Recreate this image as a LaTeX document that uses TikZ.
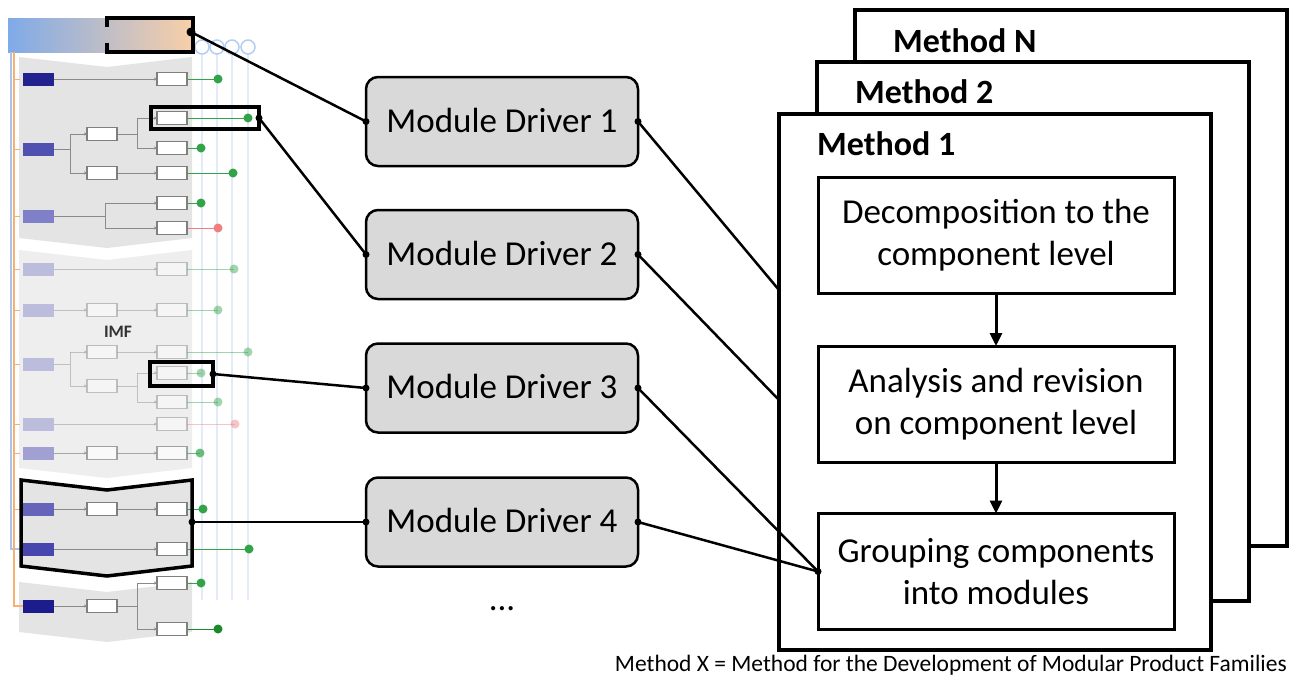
\documentclass[tikz,border=0pt]{standalone}
\usepackage{fontspec}
\setmainfont{Carlito}
\usetikzlibrary{arrows.meta,calc}
\definecolor{mdgray}{HTML}{D9D9D9}
\definecolor{tgreen}{HTML}{33A34A}
\definecolor{tdgreen}{HTML}{1A8A2A}
\definecolor{tred}{HTML}{F08080}
\definecolor{tboxc}{HTML}{7F7F7F}
\definecolor{tlinec}{HTML}{8A8A8A}
\definecolor{barblue}{HTML}{7FAAE8}
\definecolor{barmid}{HTML}{CBC3D0}
\definecolor{barpeach}{HTML}{F9CFA8}
\definecolor{faintblue}{HTML}{E2EBF7}
\definecolor{circblue}{HTML}{B5CDEE}
\definecolor{lblue}{HTML}{A8C4EC}
\definecolor{lorange}{HTML}{F8B070}
\definecolor{panelA}{HTML}{E4E4E4}
\definecolor{panelB}{HTML}{EEEEEE}
\definecolor{dA}{HTML}{23238F}
\definecolor{dB}{HTML}{5050B0}
\definecolor{dC}{HTML}{8080C8}
\definecolor{dD}{HTML}{6464BA}
\definecolor{dE}{HTML}{4646AE}
\definecolor{dF}{HTML}{1C1C8C}
\newcommand\tdrv[2]{\fill[#2] (23,#1-6.5) rectangle (54,#1+6.5);}
\newcommand\tbxa[1]{\draw[tbox] (87,#1-6.5) rectangle (117,#1+6.5);}
\newcommand\tbxb[1]{\draw[tbox] (157,#1-6.5) rectangle (187,#1+6.5);}
\newcommand\tdot[3]{\draw[#3, line width=1pt] (187,#2) -- (#1,#2); \fill[#3] (#1,#2) circle[radius=4.5];}
\newcommand\tarr[3]{\draw[tline, -{Stealth[length=3pt,width=3pt]}] (#1,#3) -- (#2,#3);}
\newcommand\tseg[4]{\draw[tline] (#1,#2) -- (#3,#4);}
\begin{document}
\begin{tikzpicture}[x=1pt,y=-1pt,
  frame/.style={draw, line width=3.5pt, fill=white, inner sep=0pt, outer sep=0pt, minimum width=432pt},
  procbox/.style={draw, line width=3pt, fill=white, minimum width=356pt, minimum height=116pt, align=center, font=\fontsize{35}{42}\selectfont, inner sep=0pt, outer sep=0pt},
  mdbox/.style={draw, line width=2.5pt, fill=mdgray, rounded corners=12pt, minimum width=272pt, minimum height=89pt, font=\fontsize{35}{42}\selectfont, inner sep=0pt, outer sep=0pt},
  mtitle/.style={anchor=west, font=\bfseries\fontsize{34}{40}\selectfont, inner sep=0pt},
  conn/.style={line width=2.5pt},
  flow/.style={line width=3pt, -{Triangle[length=13pt,width=12pt]}},
  hlbox/.style={draw, line width=3.5pt, inner sep=0pt, outer sep=0pt},
  tbox/.style={draw=tboxc, fill=white, line width=1.1pt},
  tline/.style={draw=tlinec, line width=1pt}]
\useasboundingbox (0,0) rectangle (1290,680);
\fill[white] (0,0) rectangle (1290,680);

% ---------- thumbnail (left) ----------
\foreach \xx in {202,217,232,248} \draw[faintblue, line width=1.5pt] (\xx,54) -- (\xx,600);
\foreach \xx in {202,217,232,248} \draw[circblue, line width=1.5pt] (\xx,47) circle[radius=7];
\shade[left color=barblue, middle color=barmid, right color=barpeach] (8,18) rectangle (193,52);
% panels
\fill[panelA] (19,57) -- (107,67) -- (192,57) -- (192,238) -- (107,248) -- (19,238) -- cycle;
\fill[panelB] (19,250) -- (107,260) -- (192,250) -- (192,468) -- (107,478) -- (19,468) -- cycle;
\fill[panelA] (21,480) -- (107,490) -- (192,480) -- (192,566) -- (107,576) -- (21,566) -- cycle;
\fill[panelA] (19,582) -- (107,592) -- (192,582) -- (192,632) -- (107,642) -- (19,632) -- cycle;
% left rails
\draw[lblue, line width=1.2pt] (11,52) -- (11,549) -- (23,549);
\draw[lorange, line width=1.2pt] (14,52) -- (14,606) -- (23,606);
\foreach \yy in {79,149,216,269,310,364,424,453,509} \draw[lorange, line width=1pt] (14,\yy) -- (20,\yy);
% row 1
\tarr{54}{157}{79} \tdot{218}{79}{tgreen} \tbxb{79} \tdrv{79}{dA}
% row 2
\tseg{54}{149}{70}{149} \tseg{70}{134}{70}{173} \tarr{70}{87}{134} \tarr{70}{87}{173}
\tseg{117}{134}{137}{134} \tseg{137}{118}{137}{148} \tarr{137}{157}{118} \tarr{137}{157}{148} \tarr{117}{157}{173}
\tdot{248}{118}{tgreen} \tdot{201}{148}{tgreen} \tdot{233}{173}{tgreen}
\tbxa{134} \tbxa{173} \tbxb{118} \tbxb{148} \tbxb{173} \tdrv{149}{dB}
% row 3
\tseg{54}{216}{105}{216} \tseg{105}{203}{105}{228} \tarr{105}{157}{203} \tarr{105}{157}{228}
\tdot{201}{203}{tgreen} \tdot{218}{228}{tred}
\tbxb{203} \tbxb{228} \tdrv{216}{dC}
% faded rows
\begin{scope}[opacity=0.45]
\tarr{54}{157}{269} \tdot{234}{269}{tgreen} \tbxb{269} \tdrv{269}{dC}
\tarr{54}{87}{310} \tarr{117}{157}{310} \tdot{218}{310}{tgreen} \tbxa{310} \tbxb{310} \tdrv{310}{dC}
\tseg{54}{364}{70}{364} \tseg{70}{352}{70}{386} \tarr{70}{87}{352} \tarr{70}{87}{386}
\tarr{117}{157}{352} \tseg{117}{386}{137}{386} \tseg{137}{373}{137}{402} \tarr{137}{157}{373} \tarr{137}{157}{402}
\tdot{248}{352}{tgreen} \tdot{201}{373}{tgreen} \tdot{218}{402}{tgreen}
\tbxa{352} \tbxa{386} \tbxb{352} \tbxb{373} \tbxb{402} \tdrv{364}{dC}
\tarr{54}{157}{424} \tdot{235}{424}{tred} \tbxb{424} \tdrv{424}{dC}
\end{scope}
\begin{scope}[opacity=0.7]
\tarr{54}{87}{453} \tarr{117}{157}{453} \tdot{200}{453}{tgreen} \tbxa{453} \tbxb{453} \tdrv{453}{dC}
\end{scope}
\node[font=\bfseries\fontsize{17.5}{20}\selectfont, text=black!80, inner sep=0pt] (imf) at (118,332) {IMF};
% rows 9-11
\tarr{54}{87}{509} \tarr{117}{157}{509} \tdot{203}{509}{tgreen} \tbxa{509} \tbxb{509} \tdrv{509}{dD}
\tarr{54}{157}{549} \tdot{249}{549}{tgreen} \tbxb{549} \tdrv{549}{dE}
\tarr{54}{87}{606} \tseg{117}{606}{137}{606} \tseg{137}{583}{137}{629} \tarr{137}{157}{583} \tarr{137}{157}{629}
\tdot{201}{583}{tgreen} \tdot{218}{629}{tdgreen}
\tbxa{606} \tbxb{583} \tbxb{629} \tdrv{606}{dF}
% highlights
\node[inner sep=0pt, outer sep=0pt, minimum width=86pt, minimum height=34pt] (hl1) at (150,35) {};
\draw[line width=3.5pt] (107,27) -- (107,18) -- (193,18) -- (193,52) -- (107,52) -- (107,43);
\node[hlbox, minimum width=108pt, minimum height=22pt] (hl2) at (205,118) {};
\node[hlbox, minimum width=63pt, minimum height=24pt] (hl3) at (181.5,374) {};
\draw[line width=3.5pt, line join=miter] (21,480) -- (107,490) -- (192,480) -- (192,566) -- (107,576) -- (21,566) -- cycle;
\coordinate (hl4) at (192,522);

% ---------- method frames ----------
\node[frame, minimum height=536pt] (mN) at (1071,278) {};
\node[frame, minimum height=539pt] (m2) at (1033,331.5) {};
\node[frame, minimum height=536pt] (m1) at (995,382) {};
\node[mtitle] (tN) at (893,41) {Method N};
\node[mtitle] (t2) at (855,92) {Method 2};
\node[mtitle] (t1) at (817,144) {Method 1};
\node[procbox] (p1) at (996,235) {Decomposition to the\\component level};
\node[procbox] (p2) at (996,404) {Analysis and revision\\on component level};
\node[procbox] (p3) at (996,571.5) {Grouping components\\into modules};
\draw[flow] (p1) -- (p2);
\draw[flow] (p2) -- (p3);
\path (m1.north west) ++(0,176) coordinate (m1a);
\path (m1.north west) ++(0,286) coordinate (m1b);

% ---------- module drivers ----------
\node[mdbox] (md1) at (502,121.5) {\raisebox{3pt}{Module Driver 1}};
\node[mdbox] (md2) at (502,254.5) {\raisebox{3pt}{Module Driver 2}};
\node[mdbox] (md3) at (502,388) {\raisebox{3pt}{Module Driver 3}};
\node[mdbox] (md4) at (502,522) {\raisebox{3pt}{Module Driver 4}};
\node[font=\fontsize{35}{42}\selectfont, inner sep=0pt] (more) at (502,609) {...};

% ---------- connectors ----------
\draw[conn] (191,32) -- (md1.west);
\draw[conn] (hl2.east) -- (md2.west);
\draw[conn] (hl3.east) -- (md3.west);
\draw[conn] (hl4) -- (md4.west);
\draw[conn] (md1.east) -- (m1a);
\draw[conn] (md2.east) -- (m1b);
\draw[conn] (md3.east) -- (p3.west);
\draw[conn] (md4.east) -- (p3.west);
\foreach \pt in {md1.west,md2.west,md3.west,md4.west,md1.east,md2.east,md3.east,md4.east,p3.west,hl2.east,hl3.east,hl4}
  \fill (\pt) circle[radius=3.5];
\fill (191,32) circle[radius=4.5];

% ---------- caption ----------
\node[anchor=east, font=\fontsize{23.5}{28}\selectfont, inner sep=0pt] (cap) at (1287,665) {Method X = Method for the Development of Modular Product Families};
\end{tikzpicture}
\end{document}
